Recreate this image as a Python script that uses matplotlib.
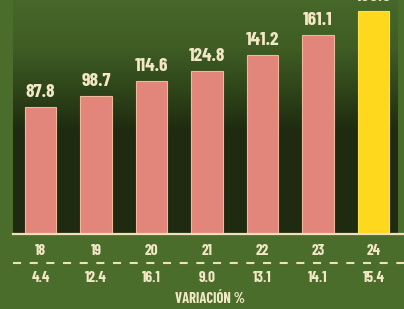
import matplotlib
matplotlib.use("Agg")
import matplotlib.pyplot as plt
import numpy as np
from matplotlib.colors import LinearSegmentedColormap

categories = ["18", "19", "20", "21", "22", "23", "24"]
values = [87.8, 98.7, 114.6, 124.8, 141.2, 161.1, 185.9]
variacion = ["4.4", "12.4", "16.1", "9.0", "13.1", "14.1", "15.4"]
value_labels = ["87.8", "98.7", "114.6", "124.8", "141.2", "161.1", "185.9"]

W, H = 404, 309
fig = plt.figure(figsize=(W / 100, H / 100), dpi=100)
fig.patch.set_facecolor("#4a6d2b")

ax_l, ax_r = 13, 398
ax = fig.add_axes([ax_l / W, 1 - 234 / H, (ax_r - ax_l) / W, 234 / H])
x = np.arange(len(categories))
x0, x1 = -0.495, (ax_r - 40.5) / 55.5
ax.set_xlim(x0, x1)
ax.set_ylim(-41.5, 196.8)
ax.axis("off")

cmap = LinearSegmentedColormap.from_list(
    "bg", [(0.0, "#1e2b10"), (0.45, "#1f2c10"), (0.62, "#2f451a"), (0.8, "#3f5d24"), (1.0, "#466829")])
grad = np.linspace(0, 1, 256).reshape(-1, 1)
ax.imshow(grad, aspect="auto", cmap=cmap, origin="lower",
          extent=[x0, x1, -41.5, 196.8], zorder=0)

colors = ["#e2857a"] * 6 + ["#fdd81c"]
edges = ["#f0b79a"] * 6 + ["#fde24a"]
ax.bar(x, [v + 41.5 for v in values], bottom=-41.5, width=0.56, color=colors,
       edgecolor=edges, linewidth=0.8, zorder=2)

font = dict(family=["Barlow Condensed", "DejaVu Sans"], fontweight=700, color="#f2e8c6")
for xi, v, lab in zip(x, values, value_labels):
    ax.text(xi, v + 6.0, lab, ha="center", va="bottom", fontsize=14, **font, clip_on=False)

ax.plot([x0, 6.55], [-41.5, -41.5], color="#eee0b8", lw=1.6, clip_on=False, zorder=3)

def fx(i):
    return (40.5 + 55.5 * i) / W

for i, (c, vv) in enumerate(zip(categories, variacion)):
    fig.text(fx(i), 1 - 251 / H, c, ha="center", va="center", fontsize=11, **font)
    fig.text(fx(i), 1 - 278 / H, vv, ha="center", va="center", fontsize=11, **font)

plt.rcParams["lines.scale_dashes"] = False
ln = matplotlib.lines.Line2D([13 / W, 1.0], [1 - 263 / H, 1 - 263 / H], transform=fig.transFigure,
                             color="#eee0b8", lw=1.5)
ln.set_dashes((5.8, 6.2))
fig.add_artist(ln)

fig.text(210 / W, 1 - 299 / H, "VARIACIÓN %", ha="center", va="center", fontsize=10.5, **font)

fig.savefig("out.png", dpi=100, facecolor=fig.get_facecolor())
